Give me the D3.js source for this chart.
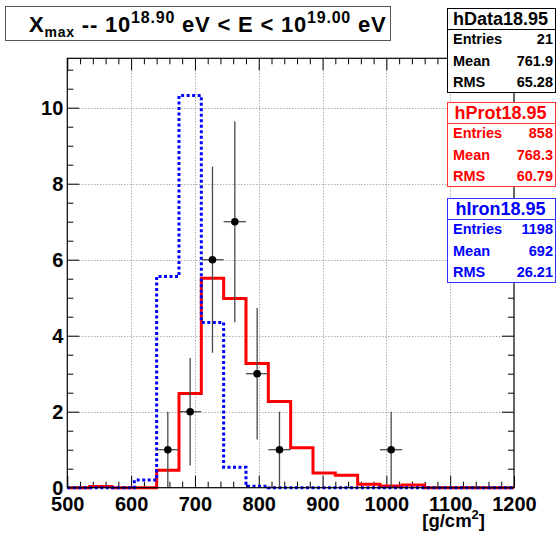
<!DOCTYPE html>
<html>
<head>
<meta charset="utf-8">
<script src="https://cdn.jsdelivr.net/npm/d3@7"></script>
<style>
  html, body { margin: 0; padding: 0; background: #fff; }
  svg { display: block; }
  text { font-family: "Liberation Sans", Arial, Helvetica, sans-serif; font-weight: bold; }
</style>
</head>
<body>
<svg id="chart" width="556" height="535"></svg>
<script>
// Histogram binning: 20 bins of 35 g/cm2 between 500 and 1200
const xRange = [500, 1200];
const nBins = 20;

// Observed events per bin
const dataCounts = [0, 0, 0, 0, 1, 2, 6, 7, 3, 1, 0, 0, 0, 0, 1, 0, 0, 0, 0, 0];
// Proton simulation, normalised to the data
const protonValues = [0, 0.03, 0, 0, 0.46, 2.48, 5.51, 4.98, 3.27, 2.27, 1.05, 0.39, 0.33, 0.09, 0.045, 0.07, 0, 0, 0, 0];
// Iron simulation, normalised to the data
const ironValues = [0, 0, 0, 0.2, 5.56, 10.32, 4.35, 0.54, 0.04, 0, 0, 0, 0, 0, 0, 0, 0, 0, 0, 0];

// Axis ticks
const xMajorTicks = [500, 600, 700, 800, 900, 1000, 1100, 1200];
const yMajorTicks = [0, 2, 4, 6, 8, 10];
const yMax = 11.3;

// Statistics boxes
const statBoxes = [
  { name: "hData18.95", color: "#000000", border: "#000000", rows: [["Entries", "21"], ["Mean", "761.9"], ["RMS", "65.28"]] },
  { name: "hProt18.95", color: "#ff0000", border: "#ff3030", rows: [["Entries", "858"], ["Mean", "768.3"], ["RMS", "60.79"]] },
  { name: "hIron18.95", color: "#0000ff", border: "#3030ff", rows: [["Entries", "1198"], ["Mean", "692"], ["RMS", "26.21"]] }
];

const svg = d3.select("#chart");
const frame = { left: 67.3, right: 514, top: 58.3, bottom: 487.7 };

const x = d3.scaleLinear().domain(xRange).range([frame.left, frame.right]);
const y = d3.scaleLinear().domain([0, yMax]).range([frame.bottom, frame.top]);

const binWidth = (xRange[1] - xRange[0]) / nBins;
const edges = d3.range(nBins + 1).map(i => xRange[0] + i * binWidth);

// Minor ticks
const xMinorTicks = d3.range(xRange[0], xRange[1] + 0.1, 20).filter(v => v % 100 !== 0);
const yMinorTicks = d3.range(0, yMax, 0.5).filter(v => v % 2 !== 0);

// Grid (dotted)
const grid = svg.append("g").attr("stroke", "#8a8a8a").attr("stroke-width", 1).attr("stroke-dasharray", "1,2");
grid.selectAll("line.gx").data(xMajorTicks.filter(v => v > xRange[0] && v < xRange[1]))
  .join("line").attr("class", "gx")
  .attr("x1", d => Math.round(x(d)) + 0.5).attr("x2", d => Math.round(x(d)) + 0.5)
  .attr("y1", frame.top).attr("y2", frame.bottom);
grid.selectAll("line.gy").data(yMajorTicks.filter(v => v > 0))
  .join("line").attr("class", "gy")
  .attr("y1", d => Math.round(y(d)) + 0.5).attr("y2", d => Math.round(y(d)) + 0.5)
  .attr("x1", frame.left).attr("x2", frame.right);

// Axes with inward ticks on all four sides
function styleAxis(g) {
  g.select(".domain").remove();
  g.selectAll(".tick line").attr("stroke", "#000").attr("stroke-width", 1);
}
const axMajorLen = 12, axMinorLen = 6;
const labelFont = '"Liberation Sans", Arial, sans-serif';

svg.append("g").attr("transform", `translate(0,${frame.bottom})`)
  .call(d3.axisBottom(x).tickValues(xMinorTicks).tickSize(-axMinorLen).tickFormat(""))
  .call(styleAxis);
const xAxisG = svg.append("g").attr("transform", `translate(0,${frame.bottom})`)
  .call(d3.axisBottom(x).tickValues(xMajorTicks).tickSize(-axMajorLen).tickFormat(d3.format("d")))
  .call(styleAxis);
xAxisG.selectAll(".tick text").attr("y", 23).attr("dy", null)
  .attr("font-size", 20).attr("fill", "#000")
  .style("font-family", labelFont).style("font-weight", "bold");

svg.append("g").attr("transform", `translate(0,${frame.top})`)
  .call(d3.axisTop(x).tickValues(xMinorTicks).tickSize(-axMinorLen).tickFormat(""))
  .call(styleAxis);
svg.append("g").attr("transform", `translate(0,${frame.top})`)
  .call(d3.axisTop(x).tickValues(xMajorTicks).tickSize(-axMajorLen).tickFormat(""))
  .call(styleAxis);

svg.append("g").attr("transform", `translate(${frame.left},0)`)
  .call(d3.axisLeft(y).tickValues(yMinorTicks).tickSize(-axMinorLen).tickFormat(""))
  .call(styleAxis);
const yAxisG = svg.append("g").attr("transform", `translate(${frame.left},0)`)
  .call(d3.axisLeft(y).tickValues(yMajorTicks).tickSize(-axMajorLen).tickFormat(d3.format("d")))
  .call(styleAxis);
yAxisG.selectAll(".tick text").attr("x", -4).attr("dy", "0.33em")
  .attr("font-size", 20).attr("fill", "#000")
  .style("font-family", labelFont).style("font-weight", "bold");

svg.append("g").attr("transform", `translate(${frame.right},0)`)
  .call(d3.axisRight(y).tickValues(yMinorTicks).tickSize(-axMinorLen).tickFormat(""))
  .call(styleAxis);
svg.append("g").attr("transform", `translate(${frame.right},0)`)
  .call(d3.axisRight(y).tickValues(yMajorTicks).tickSize(-axMajorLen).tickFormat(""))
  .call(styleAxis);

// Step outlines
function stepPoints(values) {
  const pts = values.map((v, i) => [edges[i], v]);
  pts.push([edges[nBins], values[nBins - 1]]);
  return pts;
}
const stepLine = d3.line().x(d => x(d[0])).y(d => y(d[1])).curve(d3.curveStepAfter);

svg.append("path").datum(stepPoints(protonValues))
  .attr("d", stepLine).attr("fill", "none")
  .attr("stroke", "#ff0000").attr("stroke-width", 3);

svg.append("path").datum(stepPoints(ironValues))
  .attr("d", stepLine).attr("fill", "none")
  .attr("stroke", "#0000ff").attr("stroke-width", 3).attr("stroke-dasharray", "3,2.5");

// Data points with Poisson errors
const pts = dataCounts.map((n, i) => ({ c: edges[i] + binWidth / 2, n, e: Math.sqrt(n) })).filter(d => d.n > 0);
const dataG = svg.append("g");
dataG.selectAll("line.ey").data(pts).join("line").attr("class", "ey")
  .attr("x1", d => x(d.c)).attr("x2", d => x(d.c))
  .attr("y1", d => y(d.n - d.e)).attr("y2", d => y(d.n + d.e))
  .attr("stroke", "#4a4a4a").attr("stroke-width", 1.3);
dataG.selectAll("line.ex").data(pts).join("line").attr("class", "ex")
  .attr("x1", d => x(d.c - binWidth / 2)).attr("x2", d => x(d.c + binWidth / 2))
  .attr("y1", d => y(d.n)).attr("y2", d => y(d.n))
  .attr("stroke", "#4a4a4a").attr("stroke-width", 1.3);
dataG.selectAll("circle").data(pts).join("circle")
  .attr("cx", d => x(d.c)).attr("cy", d => y(d.n)).attr("r", 3.8).attr("fill", "#000");

// Frame
svg.append("rect")
  .attr("x", frame.left).attr("y", frame.top)
  .attr("width", frame.right - frame.left).attr("height", frame.bottom - frame.top)
  .attr("fill", "none").attr("stroke", "#000").attr("stroke-width", 1.2);

// X axis title
svg.append("text").attr("x", 485).attr("y", 527).attr("text-anchor", "end")
  .attr("font-size", 18.5).attr("fill", "#000")
  .html('[g/cm<tspan font-size="13" dy="-8">2</tspan><tspan dy="8">]</tspan>');

// Title box
svg.append("rect").attr("x", 5.5).attr("y", 6.5).attr("width", 385).attr("height", 34)
  .attr("fill", "#fff").attr("stroke", "#555").attr("stroke-width", 1);
const title = svg.append("text").attr("x", 29).attr("y", 31.7)
  .attr("font-size", 22).attr("fill", "#000").style("letter-spacing", "0.8px");
title.append("tspan").text("X");
title.append("tspan").attr("dy", 5).attr("font-size", 14).text("max");
title.append("tspan").attr("dy", -5).text(" -- 10");
title.append("tspan").attr("dy", -9).attr("font-size", 16).text("18.90");
title.append("tspan").attr("dy", 9).text(" eV < E < 10");
title.append("tspan").attr("dy", -9).attr("font-size", 16).text("19.00");
title.append("tspan").attr("dy", 9).text(" eV");

// Statistics boxes
const boxTops = [8, 102, 198];
const boxL = 447.5, boxR = 555.5, boxH = 84;
statBoxes.forEach((b, i) => {
  const t = boxTops[i];
  const g = svg.append("g");
  g.append("rect").attr("x", boxL).attr("y", t + 0.5).attr("width", boxR - boxL).attr("height", boxH)
    .attr("fill", "#fff").attr("stroke", b.border).attr("stroke-width", 1);
  g.append("line").attr("x1", boxL).attr("x2", boxR).attr("y1", t + 21.5).attr("y2", t + 21.5)
    .attr("stroke", b.border).attr("stroke-width", 1);
  g.append("text").attr("x", (boxL + boxR) / 2 - 1).attr("y", t + 16.5).attr("text-anchor", "middle")
    .attr("font-size", 18).attr("fill", b.color).text(b.name);
  b.rows.forEach((r, j) => {
    const yy = t + 36 + j * 21.5;
    g.append("text").attr("x", 453).attr("y", yy).attr("font-size", 14.5).attr("fill", b.color).text(r[0]);
    g.append("text").attr("x", 553).attr("y", yy).attr("text-anchor", "end").attr("font-size", 14.5).attr("fill", b.color).text(r[1]);
  });
});
</script>
</body>
</html>
